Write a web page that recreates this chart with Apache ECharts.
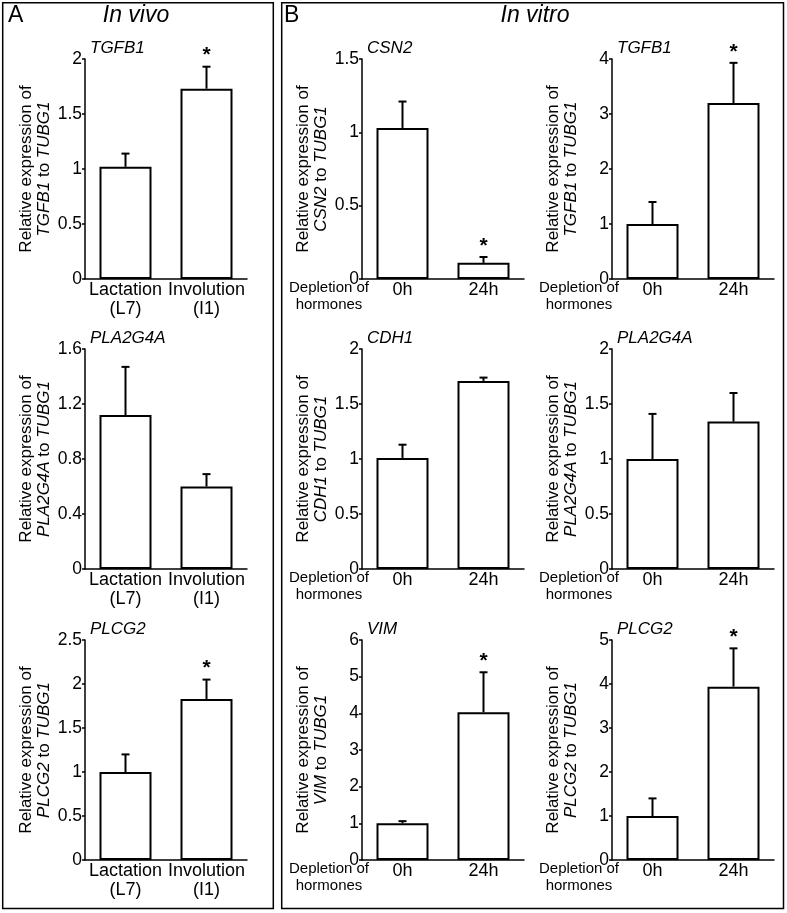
<!DOCTYPE html>
<html>
<head>
<meta charset="utf-8">
<script src="https://cdn.jsdelivr.net/npm/echarts@6/dist/echarts.min.js"></script>
<style>
  html, body { margin: 0; padding: 0; background: #fff; }
  #chart { width: 787px; height: 913px; }
</style>
</head>
<body>
<div id="chart"></div>
<script>
// categories
const vivoCats = ["Lactation\n(L7)", "Involution\n(I1)"];
const vitroCats = ["0h", "24h"];

// panel A, in vivo
const vivoGenes = ["TGFB1", "PLA2G4A", "PLCG2"];
const vivoMean = [[1.02, 1.73], [1.12, 0.60], [1.00, 1.83]];
const vivoSd = [[0.12, 0.20], [0.35, 0.09], [0.20, 0.22]];
const vivoStar = [[0, 1], [0, 0], [0, 1]];
const vivoMax = [2, 1.6, 2.5];
const vivoStep = [0.5, 0.4, 0.5];

// panel B, in vitro (row by row, left then right)
const vitroGenes = ["CSN2", "TGFB1", "CDH1", "PLA2G4A", "VIM", "PLCG2"];
const vitroMean = [[1.03, 0.11], [1.00, 3.20], [1.01, 1.71], [1.00, 1.34], [1.00, 4.03], [1.00, 3.94]];
const vitroSd = [[0.18, 0.04], [0.40, 0.73], [0.12, 0.03], [0.41, 0.26], [0.06, 1.09], [0.40, 0.87]];
const vitroStar = [[0, 1], [0, 1], [0, 0], [0, 0], [0, 1], [0, 1]];
const vitroMax = [1.5, 4, 2, 2, 6, 5];
const vitroStep = [0.5, 1, 0.5, 0.5, 1, 1];

const FONT = "Liberation Sans";
const rowTops = [59, 349, 640];
const gridH = 220;
const gridW = 162;

let charts = [];
vivoGenes.forEach((g, i) => {
  charts.push({ gene: g, cats: vivoCats, mean: vivoMean[i], sd: vivoSd[i], star: vivoStar[i],
    max: vivoMax[i], step: vivoStep[i], left: 85, top: rowTops[i], vitro: false });
});
vitroGenes.forEach((g, i) => {
  charts.push({ gene: g, cats: vitroCats, mean: vitroMean[i], sd: vitroSd[i], star: vitroStar[i],
    max: vitroMax[i], step: vitroStep[i], left: i % 2 ? 612 : 362, top: rowTops[Math.floor(i / 2)], vitro: true });
});

function renderErr(params, api) {
  const base = api.coord([api.value(0), api.value(1)]);
  const top = api.coord([api.value(0), api.value(2)]);
  const cap = 4;
  const ln = { stroke: "#000", lineWidth: 2 };
  const children = [
    { type: "line", shape: { x1: base[0], y1: base[1], x2: top[0], y2: top[1] }, style: ln },
    { type: "line", shape: { x1: top[0] - cap, y1: top[1], x2: top[0] + cap, y2: top[1] }, style: ln },
  ];
  if (api.value(3)) {
    children.push({
      type: "text",
      style: { text: "*", x: top[0], y: top[1] - 11, align: "center", verticalAlign: "middle",
        font: "bold 21px " + FONT, fill: "#000" },
    });
  }
  return { type: "group", children: children };
}

const axisLine = { show: true, lineStyle: { color: "#000", width: 1.5 } };
let grid = [], xAxis = [], yAxis = [], series = [], title = [];

charts.forEach((c, i) => {
  grid.push({ left: c.left, top: c.top, width: gridW, height: gridH });
  title.push({
    text: c.gene, left: c.left + 5, top: c.top - 19, padding: 0,
    textStyle: { fontFamily: FONT, fontStyle: "italic", fontWeight: "normal", fontSize: 17, color: "#000" },
  });
  let xa = {
    gridIndex: i, type: "category", data: c.cats,
    axisLine: axisLine,
    axisTick: { inside: true, length: 4, lineStyle: { color: "#000", width: 1.5 } },
    axisLabel: { color: "#000", fontFamily: FONT, fontSize: 18, lineHeight: 19, margin: 2,
      interval: 0, hideOverlap: false },
  };
  if (c.vitro) {
    xa.name = "Depletion of\nhormones";
    xa.nameLocation = "start";
    xa.nameGap = 33;
    xa.nameMoveOverlap = false;
    xa.nameTextStyle = { color: "#000", fontFamily: FONT, fontSize: 15, lineHeight: 17,
      align: "center", verticalAlign: "top", padding: [0, 0, 0, 0] };
  }
  xAxis.push(xa);
  yAxis.push({
    gridIndex: i, type: "value", min: 0, max: c.max, interval: c.step,
    axisLine: axisLine,
    axisTick: { show: true, length: 3, lineStyle: { color: "#000", width: 1.5 } },
    splitLine: { show: false },
    axisLabel: { color: "#000", fontFamily: FONT, fontSize: 17.5, margin: 3 },
    name: "Relative expression of\n{i|" + c.gene + "} to {i|TUBG1}",
    nameLocation: "middle", nameRotate: 90, nameGap: 32, nameMoveOverlap: false,
    nameTextStyle: { color: "#000", fontFamily: FONT, fontSize: 17, lineHeight: 18,
      rich: { i: { fontStyle: "italic", fontFamily: FONT, fontSize: 17, lineHeight: 18, color: "#000" } } },
  });
  series.push({
    type: "bar", xAxisIndex: i, yAxisIndex: i, data: c.mean, barWidth: 52, silent: true,
    itemStyle: { color: "#fff", borderColor: "#000", borderWidth: 2 },
  });
  series.push({
    type: "custom", xAxisIndex: i, yAxisIndex: i, z: 5, silent: true,
    renderItem: renderErr,
    encode: { x: 0, y: 2 },
    data: c.mean.map((m, j) => [j, m, m + c.sd[j], c.star[j]]),
  });
});

const heading = (txt, x, italic, align) => ({
  type: "text", x: x, y: 4,
  style: { text: txt, font: (italic ? "italic " : "") + "23px " + FONT, fill: "#000", align: align },
});

const chart = echarts.init(document.getElementById("chart"));
chart.setOption({
  animation: false,
  textStyle: { fontFamily: FONT, color: "#000" },
  title: title,
  grid: grid,
  xAxis: xAxis,
  yAxis: yAxis,
  series: series,
  graphic: [
    { type: "rect", shape: { x: 2.7, y: 2.7, width: 270.6, height: 905.8 },
      style: { fill: "none", stroke: "#000", lineWidth: 1.5 } },
    { type: "rect", shape: { x: 281.7, y: 2.7, width: 501.8, height: 905.8 },
      style: { fill: "none", stroke: "#000", lineWidth: 1.5 } },
    heading("A", 8, false, "left"),
    heading("In vivo", 136, true, "center"),
    heading("B", 284, false, "left"),
    heading("In vitro", 535, true, "center"),
  ],
});
</script>
</body>
</html>
